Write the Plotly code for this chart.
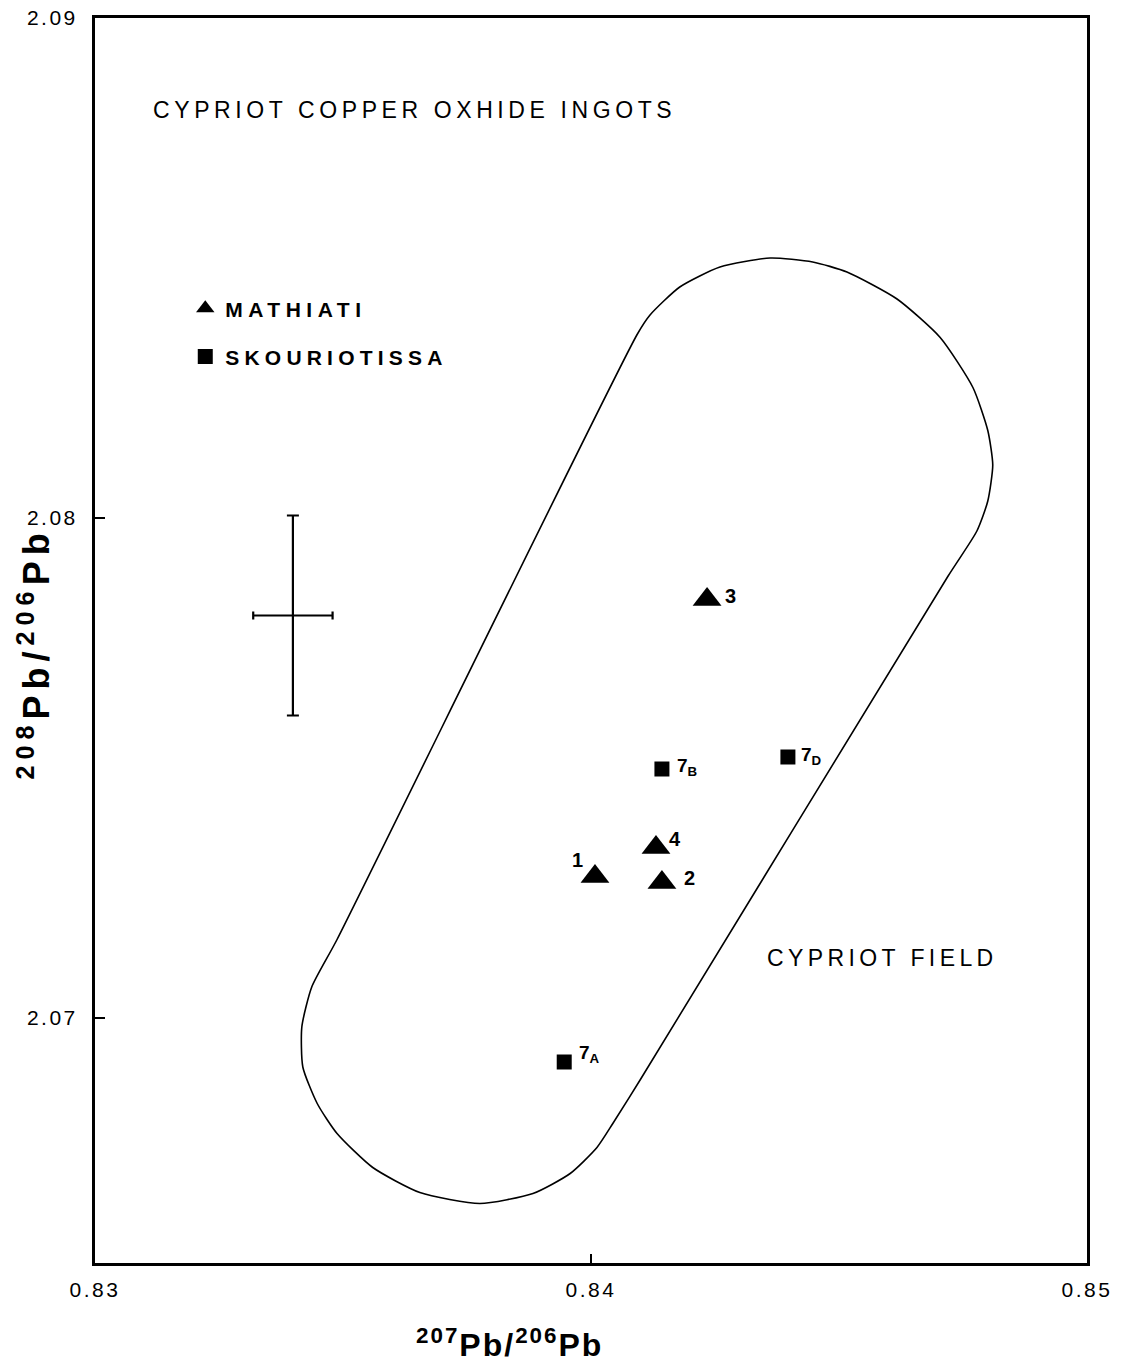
import plotly.graph_objects as go

# ---- data ----
mathiati_x = [0.84008, 0.84143, 0.84234, 0.84131]
mathiati_y = [2.07283, 2.07271, 2.07837, 2.07341]
mathiati_lab = ["1", "2", "3", "4"]
mathiati_dx = [-17, 28, 23, 19]
mathiati_dy = [17, 5, 4, 9]

skour_x = [0.83946, 0.84143, 0.84397]
skour_y = [2.06912, 2.07498, 2.07522]
skour_lab = ["7<sub>A</sub>", "7<sub>B</sub>", "7<sub>D</sub>"]
skour_dx = [25, 25, 24]
skour_dy = [8, 2, 1]

# outline of the Cypriot field (data units)
field_x = [0.84093, 0.84119, 0.84179, 0.84260, 0.84361, 0.84447, 0.84516, 0.84617,
           0.84704, 0.84770, 0.84800, 0.84810, 0.84800, 0.84778, 0.84720,
           0.84099, 0.84044, 0.84012, 0.83958, 0.83883, 0.83776, 0.83655, 0.83560,
           0.83488, 0.83448, 0.83419, 0.83417, 0.83437, 0.83488, 0.84093]
field_y = [2.08367, 2.08406, 2.08462, 2.08502, 2.08520, 2.08512, 2.08492, 2.08438,
           2.08361, 2.08261, 2.08175, 2.08106, 2.08034, 2.07974, 2.07884,
           2.06876, 2.06789, 2.06741, 2.06689, 2.06649, 2.06629, 2.06651, 2.06701,
           2.06769, 2.06829, 2.06902, 2.06982, 2.07062, 2.07157, 2.08367]

# typical analytical uncertainty cross
err_x = [0.83399]
err_y = [2.07805]
err_dx = [0.0008]
err_dy = [0.0020]

x_ticks = [0.83, 0.84, 0.85]
x_ticklabels = ["0.83", "0.84", "0.85"]
y_ticks = [2.07, 2.08, 2.09]
y_ticklabels = ["2.07", "2.08", "2.09"]

FONT = "Liberation Sans, Arial, sans-serif"


def spaced(t, px):
    return f'<span style="letter-spacing:{px}px">{t}</span>'


fig = go.Figure()

fig.add_trace(go.Scatter(
    x=field_x, y=field_y, mode="lines",
    line=dict(color="black", width=1.6, shape="spline", smoothing=0.6),
    showlegend=False, hoverinfo="skip"))

fig.add_trace(go.Scatter(
    x=err_x, y=err_y, mode="markers",
    marker=dict(size=1, color="black"),
    error_x=dict(type="data", array=err_dx, color="black", thickness=2.2, width=4),
    error_y=dict(type="data", array=err_dy, color="black", thickness=2.2, width=6),
    showlegend=False, hoverinfo="skip"))

fig.add_trace(go.Scatter(
    x=mathiati_x, y=mathiati_y, mode="markers",
    name=spaced("MATHIATI", 5.5),
    legendgroup="m",
    marker=dict(symbol="triangle-up", size=25, color="black")))

fig.add_trace(go.Scatter(
    x=skour_x, y=skour_y, mode="markers",
    name=spaced("SKOURIOTISSA", 5.2),
    legendgroup="s",
    marker=dict(symbol="square", size=15, color="black")))

for x, y, t, dx, dy in zip(mathiati_x, mathiati_y, mathiati_lab, mathiati_dx, mathiati_dy):
    fig.add_annotation(x=x, y=y, xref="x", yref="y", text=t, showarrow=False,
                       xshift=dx, yshift=dy, xanchor="center", yanchor="middle",
                       font=dict(family=FONT, size=20, color="black", weight="bold"))
for x, y, t, dx, dy in zip(skour_x, skour_y, skour_lab, skour_dx, skour_dy):
    fig.add_annotation(x=x, y=y, xref="x", yref="y", text=t, showarrow=False,
                       xshift=dx, yshift=dy, xanchor="center", yanchor="middle",
                       font=dict(family=FONT, size=19, color="black", weight="bold"))

fig.update_xaxes(
    range=[0.83, 0.85], tickvals=x_ticks,
    ticktext=[spaced(t, 2.5) for t in x_ticklabels],
    showgrid=False, zeroline=False, automargin=False, ticklabeloverflow="allow",
    showline=True, mirror=True, linecolor="black", linewidth=3,
    ticks="inside", ticklen=9, tickwidth=2, tickcolor="black",
    tickfont=dict(family=FONT, size=21, color="black"),
    ticklabelstandoff=6)
fig.update_yaxes(
    range=[2.0651, 2.0900], tickvals=y_ticks,
    ticktext=[spaced(t, 2.5) for t in y_ticklabels],
    showgrid=False, zeroline=False, automargin=False, ticklabeloverflow="allow",
    showline=True, mirror=True, linecolor="black", linewidth=3,
    ticks="inside", ticklen=10, tickwidth=2, tickcolor="black",
    tickfont=dict(family=FONT, size=21, color="black"),
    ticklabelstandoff=10)

fig.add_annotation(
    text=spaced("CYPRIOT COPPER OXHIDE INGOTS", 4.6),
    xref="paper", yref="paper", x=0.056, y=0.926,
    xanchor="left", yanchor="middle", showarrow=False,
    font=dict(family=FONT, size=23, color="black"))
fig.add_annotation(
    text=spaced("CYPRIOT FIELD", 4.4),
    xref="paper", yref="paper", x=0.675, y=0.245,
    xanchor="left", yanchor="middle", showarrow=False,
    font=dict(family=FONT, size=23, color="black"))
fig.add_annotation(
    text=spaced("<sup>207</sup>Pb/<sup>206</sup>Pb", 2),
    xref="paper", yref="paper", x=0.418, y=-0.064,
    xanchor="center", yanchor="middle", showarrow=False,
    font=dict(family=FONT, size=32, color="black", weight="bold"))
fig.add_annotation(
    text=spaced("<sup>208</sup>Pb/<sup>206</sup>Pb", 6),
    xref="paper", yref="paper", x=-0.062, y=0.49,
    xanchor="center", yanchor="middle", showarrow=False, textangle=-90,
    font=dict(family=FONT, size=36, color="black", weight="bold"))

fig.update_layout(
    width=1113, height=1358,
    margin=dict(l=87, r=34, t=10, b=103, autoexpand=False),
    paper_bgcolor="white", plot_bgcolor="white",
    showlegend=True,
    legend=dict(x=0.091, y=0.783, xanchor="left", yanchor="top",
                traceorder="grouped", tracegroupgap=18, itemsizing="trace",
                font=dict(family=FONT, size=21, color="black", weight="bold"),
                bgcolor="rgba(0,0,0,0)", itemwidth=30),
)

fig.write_html("out.html")
